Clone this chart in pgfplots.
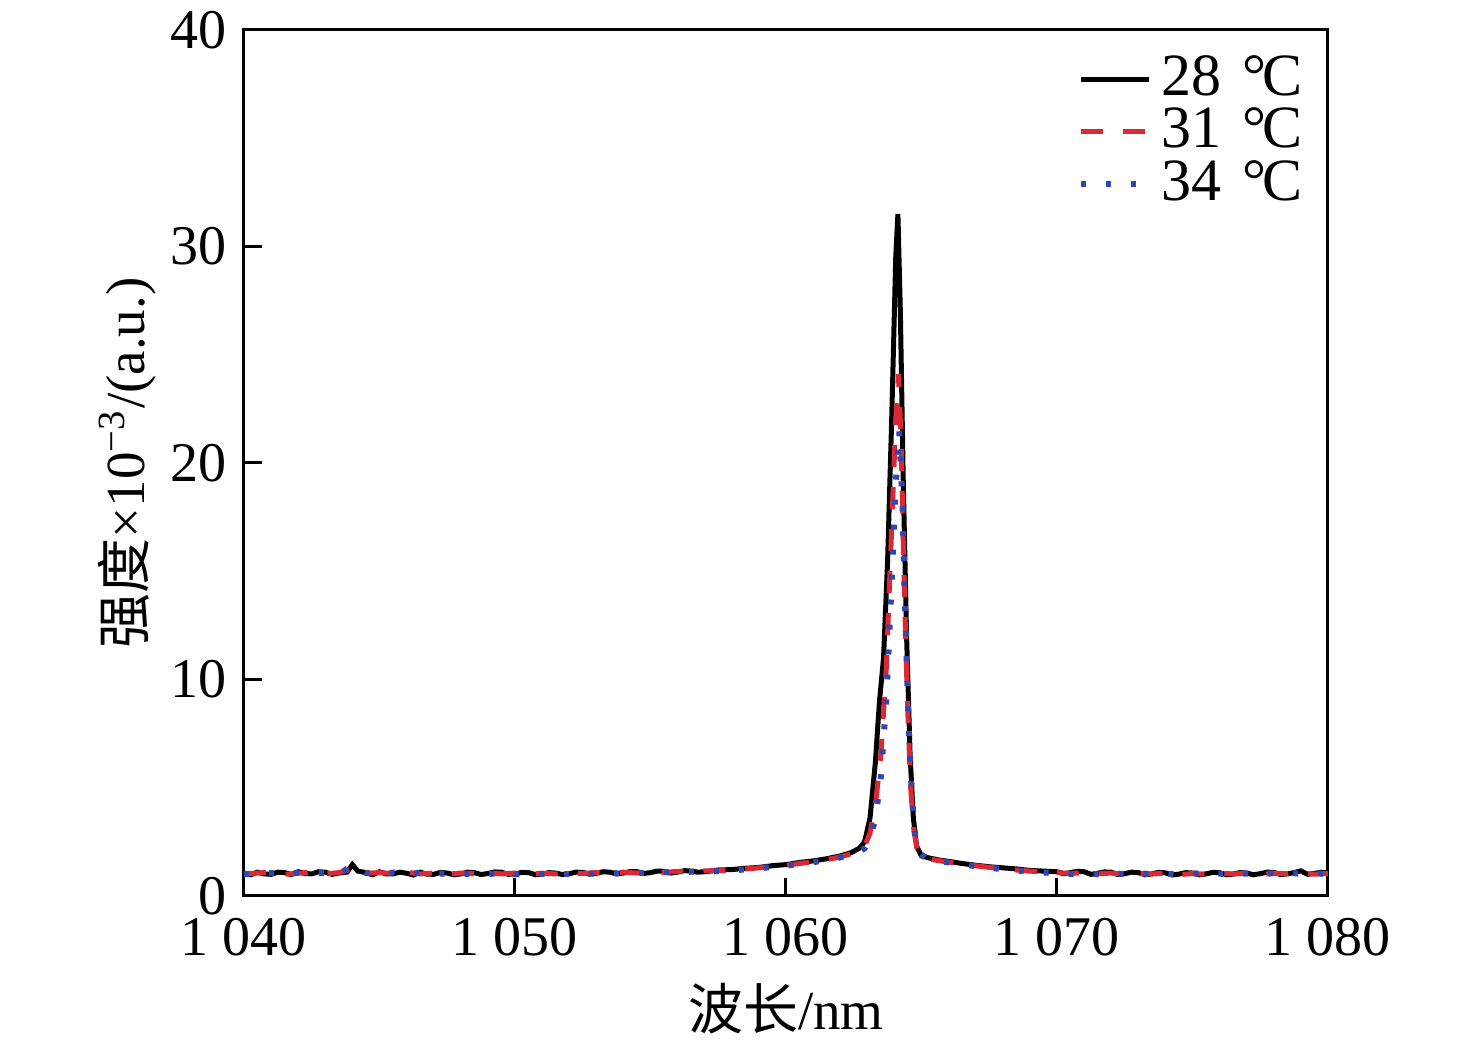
\documentclass[border=0pt]{standalone}
\usepackage{pgfplots}
\pgfplotsset{compat=1.18}
\usepackage{fontspec}
\setmainfont{Liberation Serif}
\newfontfamily\cjk{Noto Sans CJK SC}
\definecolor{myred}{RGB}{220,40,52}
\definecolor{myblue}{RGB}{50,70,175}
\newcommand{\degc}{\kern0.1em°\kern-0.08em C}
\begin{document}
\begin{tikzpicture}
\useasboundingbox (-48.8pt,-29.6pt) rectangle (246.4pt,179.2pt);
\begin{axis}[
  at={(0,0)}, anchor=south west,
  scale only axis, width=216.8pt, height=173.2pt,
  xmin=1040, xmax=1080, ymin=0, ymax=40,
  xtick={1040,1050,1060,1070,1080},
  xticklabels={1\ 040,1\ 050,1\ 060,1\ 070,1\ 080},
  ytick={0,10,20,30,40},
  tick align=inside, xtick pos=bottom, ytick pos=left,
  major tick length=3.6pt,
  axis line style={line width=0.6pt},
  every tick/.style={line width=0.6pt, black},
  /pgf/number format/assume math mode=true,
  tick label style={font=\fontsize{11.2}{13}\selectfont},
  xticklabel style={yshift=-1pt},
  label style={font=\fontsize{11}{13}\selectfont},
  xlabel={{\cjk 波长}/nm},
  ylabel={{\cjk 强度}×10\textsuperscript{−3}/(a.u.)},
  xlabel style={yshift=1.5pt},
  ylabel style={yshift=-4pt},
  legend style={draw=none, fill=none, at={(1.0,0.995)}, anchor=north east,
    font=\fontsize{12}{14}\selectfont, row sep=-3pt},
  legend cell align=left,
  legend image code/.code={\draw[#1] (0pt,0pt) -- (13.6pt,0pt);},
]
\addplot[black, line width=1pt] coordinates {
(1040.0,1.05)(1040.25,0.98)(1040.5,1.10)(1040.75,1.02)(1041.0,1.00)(1041.25,1.10)(1041.5,1.08)(1041.75,0.99)(1042.0,1.12)(1042.25,1.04)(1042.5,1.02)
(1042.75,1.12)(1043.0,1.10)(1043.25,1.00)(1043.5,1.06)(1043.8,1.10)(1044.0,1.45)(1044.2,1.15)(1044.5,1.08)
(1044.75,0.98)(1045.0,1.12)(1045.25,1.02)(1045.5,1.02)(1045.75,1.10)(1046.0,1.05)(1046.25,0.97)(1046.5,1.10)(1046.75,1.01)(1047.0,1.00)(1047.25,1.09)(1047.5,1.06)
(1047.75,0.98)(1048.0,1.02)(1048.25,1.10)(1048.5,1.08)(1048.75,0.99)(1049.0,1.04)(1049.25,1.11)(1049.5,1.10)(1049.75,1.00)(1050.0,1.02)(1050.25,1.09)(1050.5,1.08)
(1050.75,0.98)(1051.0,1.00)(1051.25,1.08)(1051.5,1.06)(1051.75,0.99)(1052.0,1.03)(1052.25,1.10)(1052.5,1.09)(1052.75,1.01)(1053.0,1.05)(1053.25,1.12)(1053.5,1.10)
(1053.75,1.02)(1054.0,1.06)(1054.25,1.13)(1054.5,1.12)(1054.75,1.04)(1055.0,1.08)(1055.25,1.15)(1055.5,1.14)(1055.75,1.06)(1056.0,1.10)(1056.25,1.17)(1056.5,1.15)
(1056.75,1.10)(1057.0,1.12)(1057.5,1.20)(1058.0,1.22)(1058.5,1.28)(1059.0,1.32)(1059.5,1.40)
(1060.0,1.45)(1060.5,1.55)(1061.0,1.62)(1061.5,1.72)(1062.0,1.85)(1062.4,2.00)
(1062.7,2.20)(1062.9,2.50)(1063.1,3.6)(1063.3,6.2)(1063.45,9.0)(1063.6,11.0)
(1063.75,15.5)(1063.9,22.0)(1064.05,29.5)(1064.13,31.5)(1064.22,27.0)(1064.33,19.0)
(1064.45,12.0)(1064.58,6.5)(1064.7,3.6)(1064.82,2.3)(1065.0,1.85)(1065.3,1.75)
(1065.7,1.65)(1066.0,1.60)(1066.5,1.50)(1067.0,1.42)(1067.5,1.35)(1068.0,1.30)
(1068.5,1.25)(1069.0,1.18)(1069.5,1.15)(1070.0,1.12)(1070.25,1.03)(1070.5,1.08)(1070.75,1.14)(1071.0,1.12)
(1071.25,1.00)(1071.5,1.05)(1071.75,1.11)(1072.0,1.10)(1072.25,0.99)(1072.5,1.03)(1072.75,1.10)(1073.0,1.08)(1073.25,0.98)(1073.5,1.02)(1073.75,1.09)(1074.0,1.07)
(1074.25,0.97)(1074.5,1.01)(1074.75,1.08)(1075.0,1.06)(1075.25,0.98)(1075.5,1.02)(1075.75,1.09)(1076.0,1.08)(1076.25,0.98)(1076.5,1.01)(1076.75,1.08)(1077.0,1.06)
(1077.25,0.98)(1077.5,1.03)(1077.75,1.10)(1078.0,1.09)(1078.25,0.99)(1078.5,1.02)(1078.75,1.08)(1079.0,1.16)(1079.25,1.00)(1079.5,1.04)(1079.75,1.10)(1080.0,1.06)
};
\addlegendentry{28 \degc}
\addplot[myred, line width=1pt, dash pattern=on 4.4pt off 4pt] coordinates {
(1040.0,1.02)(1040.5,1.06)(1041.0,1.10)(1041.5,1.00)(1042.0,1.05)(1042.5,1.10)
(1043.0,1.02)(1043.5,1.08)(1044.0,1.25)(1044.5,1.05)(1045.0,1.08)(1045.5,1.04)
(1046.0,1.10)(1046.5,1.02)(1047.0,1.06)(1047.5,1.00)(1048.0,1.06)(1048.5,1.03)
(1049.0,1.08)(1049.5,1.02)(1050.0,1.06)(1050.5,1.01)(1051.0,1.05)(1051.5,1.02)
(1052.0,1.07)(1052.5,1.04)(1053.0,1.08)(1053.5,1.04)(1054.0,1.10)(1054.5,1.06)
(1055.0,1.10)(1055.5,1.08)(1056.0,1.14)(1056.5,1.10)(1057.0,1.16)(1057.5,1.17)
(1058.0,1.20)(1058.5,1.25)(1059.0,1.30)(1059.5,1.36)(1060.0,1.42)(1060.5,1.50)
(1061.0,1.58)(1061.5,1.68)(1062.0,1.80)(1062.4,1.95)(1062.7,2.10)(1062.9,2.30)
(1063.1,2.9)(1063.3,4.2)(1063.5,6.5)(1063.7,10.5)(1063.9,17.0)(1064.05,22.0)
(1064.15,24.1)(1064.25,21.0)(1064.35,15.0)(1064.48,9.0)(1064.6,5.0)(1064.72,3.0)
(1064.85,2.1)(1065.0,1.80)(1065.3,1.70)(1065.7,1.62)(1066.0,1.56)(1066.5,1.48)
(1067.0,1.40)(1067.5,1.32)(1068.0,1.26)(1068.5,1.20)(1069.0,1.15)(1069.5,1.10)
(1070.0,1.08)(1070.5,1.04)(1071.0,1.08)(1071.5,1.02)(1072.0,1.06)(1072.5,1.00)
(1073.0,1.05)(1073.5,1.02)(1074.0,1.04)(1074.5,0.98)(1075.0,1.04)(1075.5,1.00)
(1076.0,1.05)(1076.5,1.02)(1077.0,1.04)(1077.5,1.00)(1078.0,1.05)(1078.5,1.03)
(1079.0,1.06)(1079.5,1.01)(1080.0,1.04)
};
\addlegendentry{31 \degc}
\addplot[myblue, line width=1.2pt, dash pattern=on 1pt off 4pt] coordinates {
(1040.0,1.00)(1040.5,1.04)(1041.0,1.06)(1041.5,1.02)(1042.0,1.08)(1042.5,1.04)
(1043.0,1.06)(1043.5,1.02)(1044.0,1.40)(1044.5,1.06)(1045.0,1.02)(1045.5,1.08)
(1046.0,1.03)(1046.5,1.06)(1047.0,1.02)(1047.5,1.04)(1048.0,1.00)(1048.5,1.05)
(1049.0,1.01)(1049.5,1.06)(1050.0,1.00)(1050.5,1.04)(1051.0,1.02)(1051.5,1.04)
(1052.0,1.01)(1052.5,1.06)(1053.0,1.02)(1053.5,1.06)(1054.0,1.04)(1054.5,1.08)
(1055.0,1.05)(1055.5,1.10)(1056.0,1.08)(1056.5,1.12)(1057.0,1.12)(1057.5,1.15)
(1058.0,1.18)(1058.5,1.23)(1059.0,1.28)(1059.5,1.34)(1060.0,1.40)(1060.5,1.48)
(1061.0,1.56)(1061.5,1.66)(1062.0,1.78)(1062.4,1.92)(1062.7,2.05)(1062.9,2.20)
(1063.1,2.6)(1063.3,3.6)(1063.5,5.5)(1063.7,9.0)(1063.9,14.5)(1064.05,19.0)
(1064.18,21.5)(1064.3,18.0)(1064.4,13.0)(1064.52,8.0)(1064.65,4.5)(1064.78,2.6)
(1064.9,2.0)(1065.2,1.72)(1065.6,1.62)(1066.0,1.55)(1066.5,1.46)(1067.0,1.38)
(1067.5,1.30)(1068.0,1.24)(1068.5,1.18)(1069.0,1.12)(1069.5,1.08)(1070.0,1.06)
(1070.5,1.02)(1071.0,1.06)(1071.5,1.00)(1072.0,1.04)(1072.5,1.02)(1073.0,1.06)
(1073.5,1.00)(1074.0,1.03)(1074.5,1.00)(1075.0,1.05)(1075.5,1.01)(1076.0,1.03)
(1076.5,1.00)(1077.0,1.04)(1077.5,1.01)(1078.0,1.05)(1078.5,1.08)(1079.0,1.02)
(1079.5,1.05)(1080.0,1.02)
};
\addlegendentry{34 \degc}
\end{axis}
\end{tikzpicture}
\end{document}
